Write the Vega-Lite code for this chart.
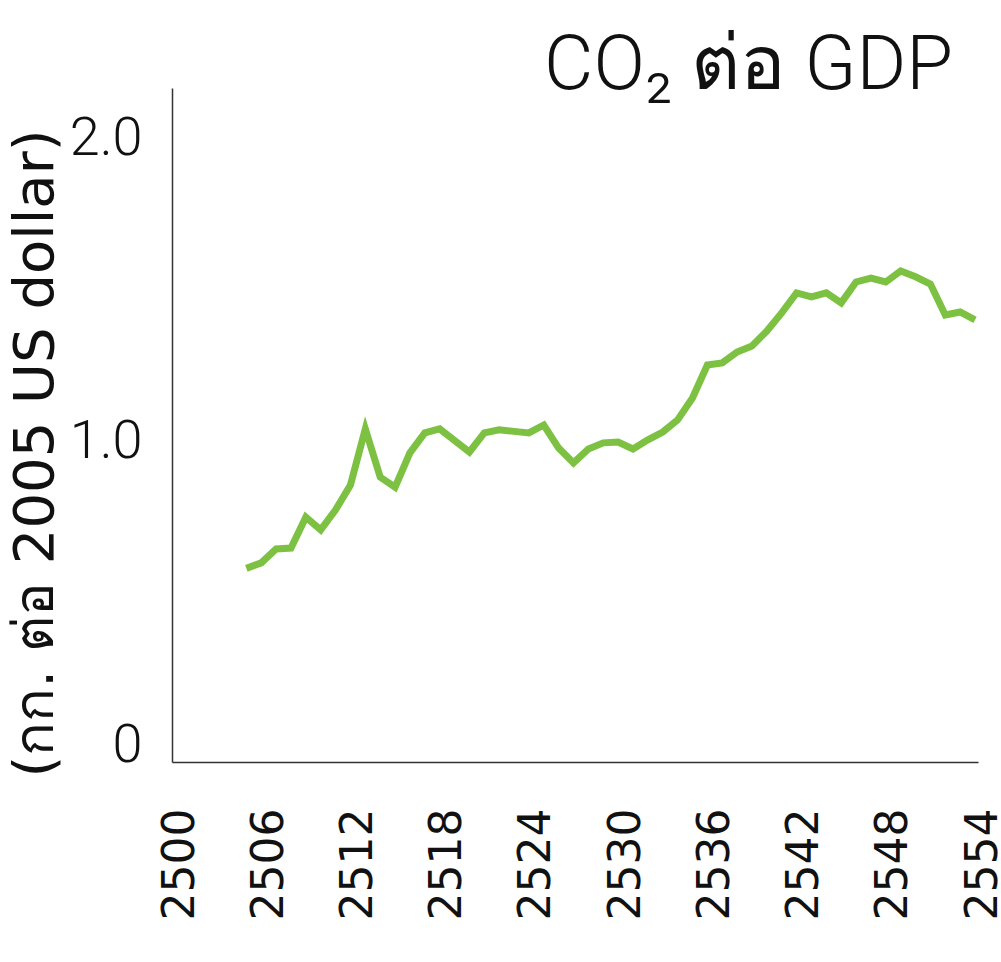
{
  "$schema": "https://vega.github.io/schema/vega-lite/v6.json",
  "width": 806,
  "height": 674,
  "autosize": {"type": "none"},
  "padding": {"left": 172, "top": 88, "right": 23, "bottom": 200},
  "background": "white",
  "config": {"view": {"stroke": null}},
  "title": {
    "text": "CO₂ ต่อ GDP",
    "anchor": "end",
    "frame": "group",
    "orient": "top",
    "baseline": "top",
    "offset": 0,
    "dy": 17,
    "dx": -25,
    "font": "Roboto",
    "fontSize": 76,
    "fontWeight": 300,
    "color": "#111111"
  },
  "data": {
    "values": [
      {"year": 2505, "value": 0.583},
      {"year": 2506, "value": 0.601},
      {"year": 2507, "value": 0.647},
      {"year": 2508, "value": 0.650},
      {"year": 2509, "value": 0.752},
      {"year": 2510, "value": 0.710},
      {"year": 2511, "value": 0.776},
      {"year": 2512, "value": 0.858},
      {"year": 2513, "value": 1.043},
      {"year": 2514, "value": 0.884},
      {"year": 2515, "value": 0.851},
      {"year": 2516, "value": 0.964},
      {"year": 2517, "value": 1.030},
      {"year": 2518, "value": 1.043},
      {"year": 2519, "value": 1.005},
      {"year": 2520, "value": 0.967},
      {"year": 2521, "value": 1.030},
      {"year": 2522, "value": 1.040},
      {"year": 2523, "value": 1.035},
      {"year": 2524, "value": 1.030},
      {"year": 2525, "value": 1.056},
      {"year": 2526, "value": 0.980},
      {"year": 2527, "value": 0.931},
      {"year": 2528, "value": 0.977},
      {"year": 2529, "value": 0.997},
      {"year": 2530, "value": 1.000},
      {"year": 2531, "value": 0.977},
      {"year": 2532, "value": 1.007},
      {"year": 2533, "value": 1.033},
      {"year": 2534, "value": 1.073},
      {"year": 2535, "value": 1.145},
      {"year": 2536, "value": 1.254},
      {"year": 2537, "value": 1.261},
      {"year": 2538, "value": 1.297},
      {"year": 2539, "value": 1.317},
      {"year": 2540, "value": 1.366},
      {"year": 2541, "value": 1.426},
      {"year": 2542, "value": 1.492},
      {"year": 2543, "value": 1.479},
      {"year": 2544, "value": 1.492},
      {"year": 2545, "value": 1.459},
      {"year": 2546, "value": 1.528},
      {"year": 2547, "value": 1.541},
      {"year": 2548, "value": 1.528},
      {"year": 2549, "value": 1.564},
      {"year": 2550, "value": 1.545},
      {"year": 2551, "value": 1.521},
      {"year": 2552, "value": 1.419},
      {"year": 2553, "value": 1.429},
      {"year": 2554, "value": 1.403}
    ]
  },
  "mark": {"type": "line", "color": "#7dc142", "strokeWidth": 7, "strokeJoin": "miter", "strokeCap": "butt"},
  "encoding": {
    "x": {
      "field": "year",
      "type": "quantitative",
      "scale": {"domain": [2500, 2554.2], "nice": false, "zero": false},
      "axis": {
        "values": [2500, 2506, 2512, 2518, 2524, 2530, 2536, 2542, 2548, 2554],
        "format": "d",
        "title": null,
        "grid": false,
        "ticks": false,
        "domainColor": "#333333",
        "domainWidth": 1.5,
        "labelAngle": -90,
        "labelPadding": 46,
        "labelOffset": 8,
        "labelFont": "DejaVu Sans",
        "labelFontSize": 44,
        "labelColor": "#111111",
        "labelOverlap": false,
        "labelFlush": false
      }
    },
    "y": {
      "field": "value",
      "type": "quantitative",
      "scale": {"domain": [-0.056, 2.168], "nice": false, "zero": false},
      "axis": {
        "values": [0, 1, 2],
        "labelExpr": "datum.value == 0 ? '0' : format(datum.value, '.1f')",
        "grid": false,
        "ticks": false,
        "domainColor": "#333333",
        "domainWidth": 1.5,
        "labelPadding": 30,
        "labelFont": "Roboto",
        "labelFontWeight": 300,
        "labelFontSize": 54,
        "labelColor": "#111111",
        "labelOverlap": false,
        "labelFlush": false,
        "title": "(กก. ต่อ 2005 US dollar)",
        "titleAngle": -90,
        "titleAlign": "center",
        "titleBaseline": "alphabetic",
        "titleX": -120,
        "titleY": 365,
        "titleFont": "DejaVu Sans",
        "titleFontSize": 56,
        "titleFontWeight": "normal",
        "titleColor": "#111111"
      }
    }
  }
}
